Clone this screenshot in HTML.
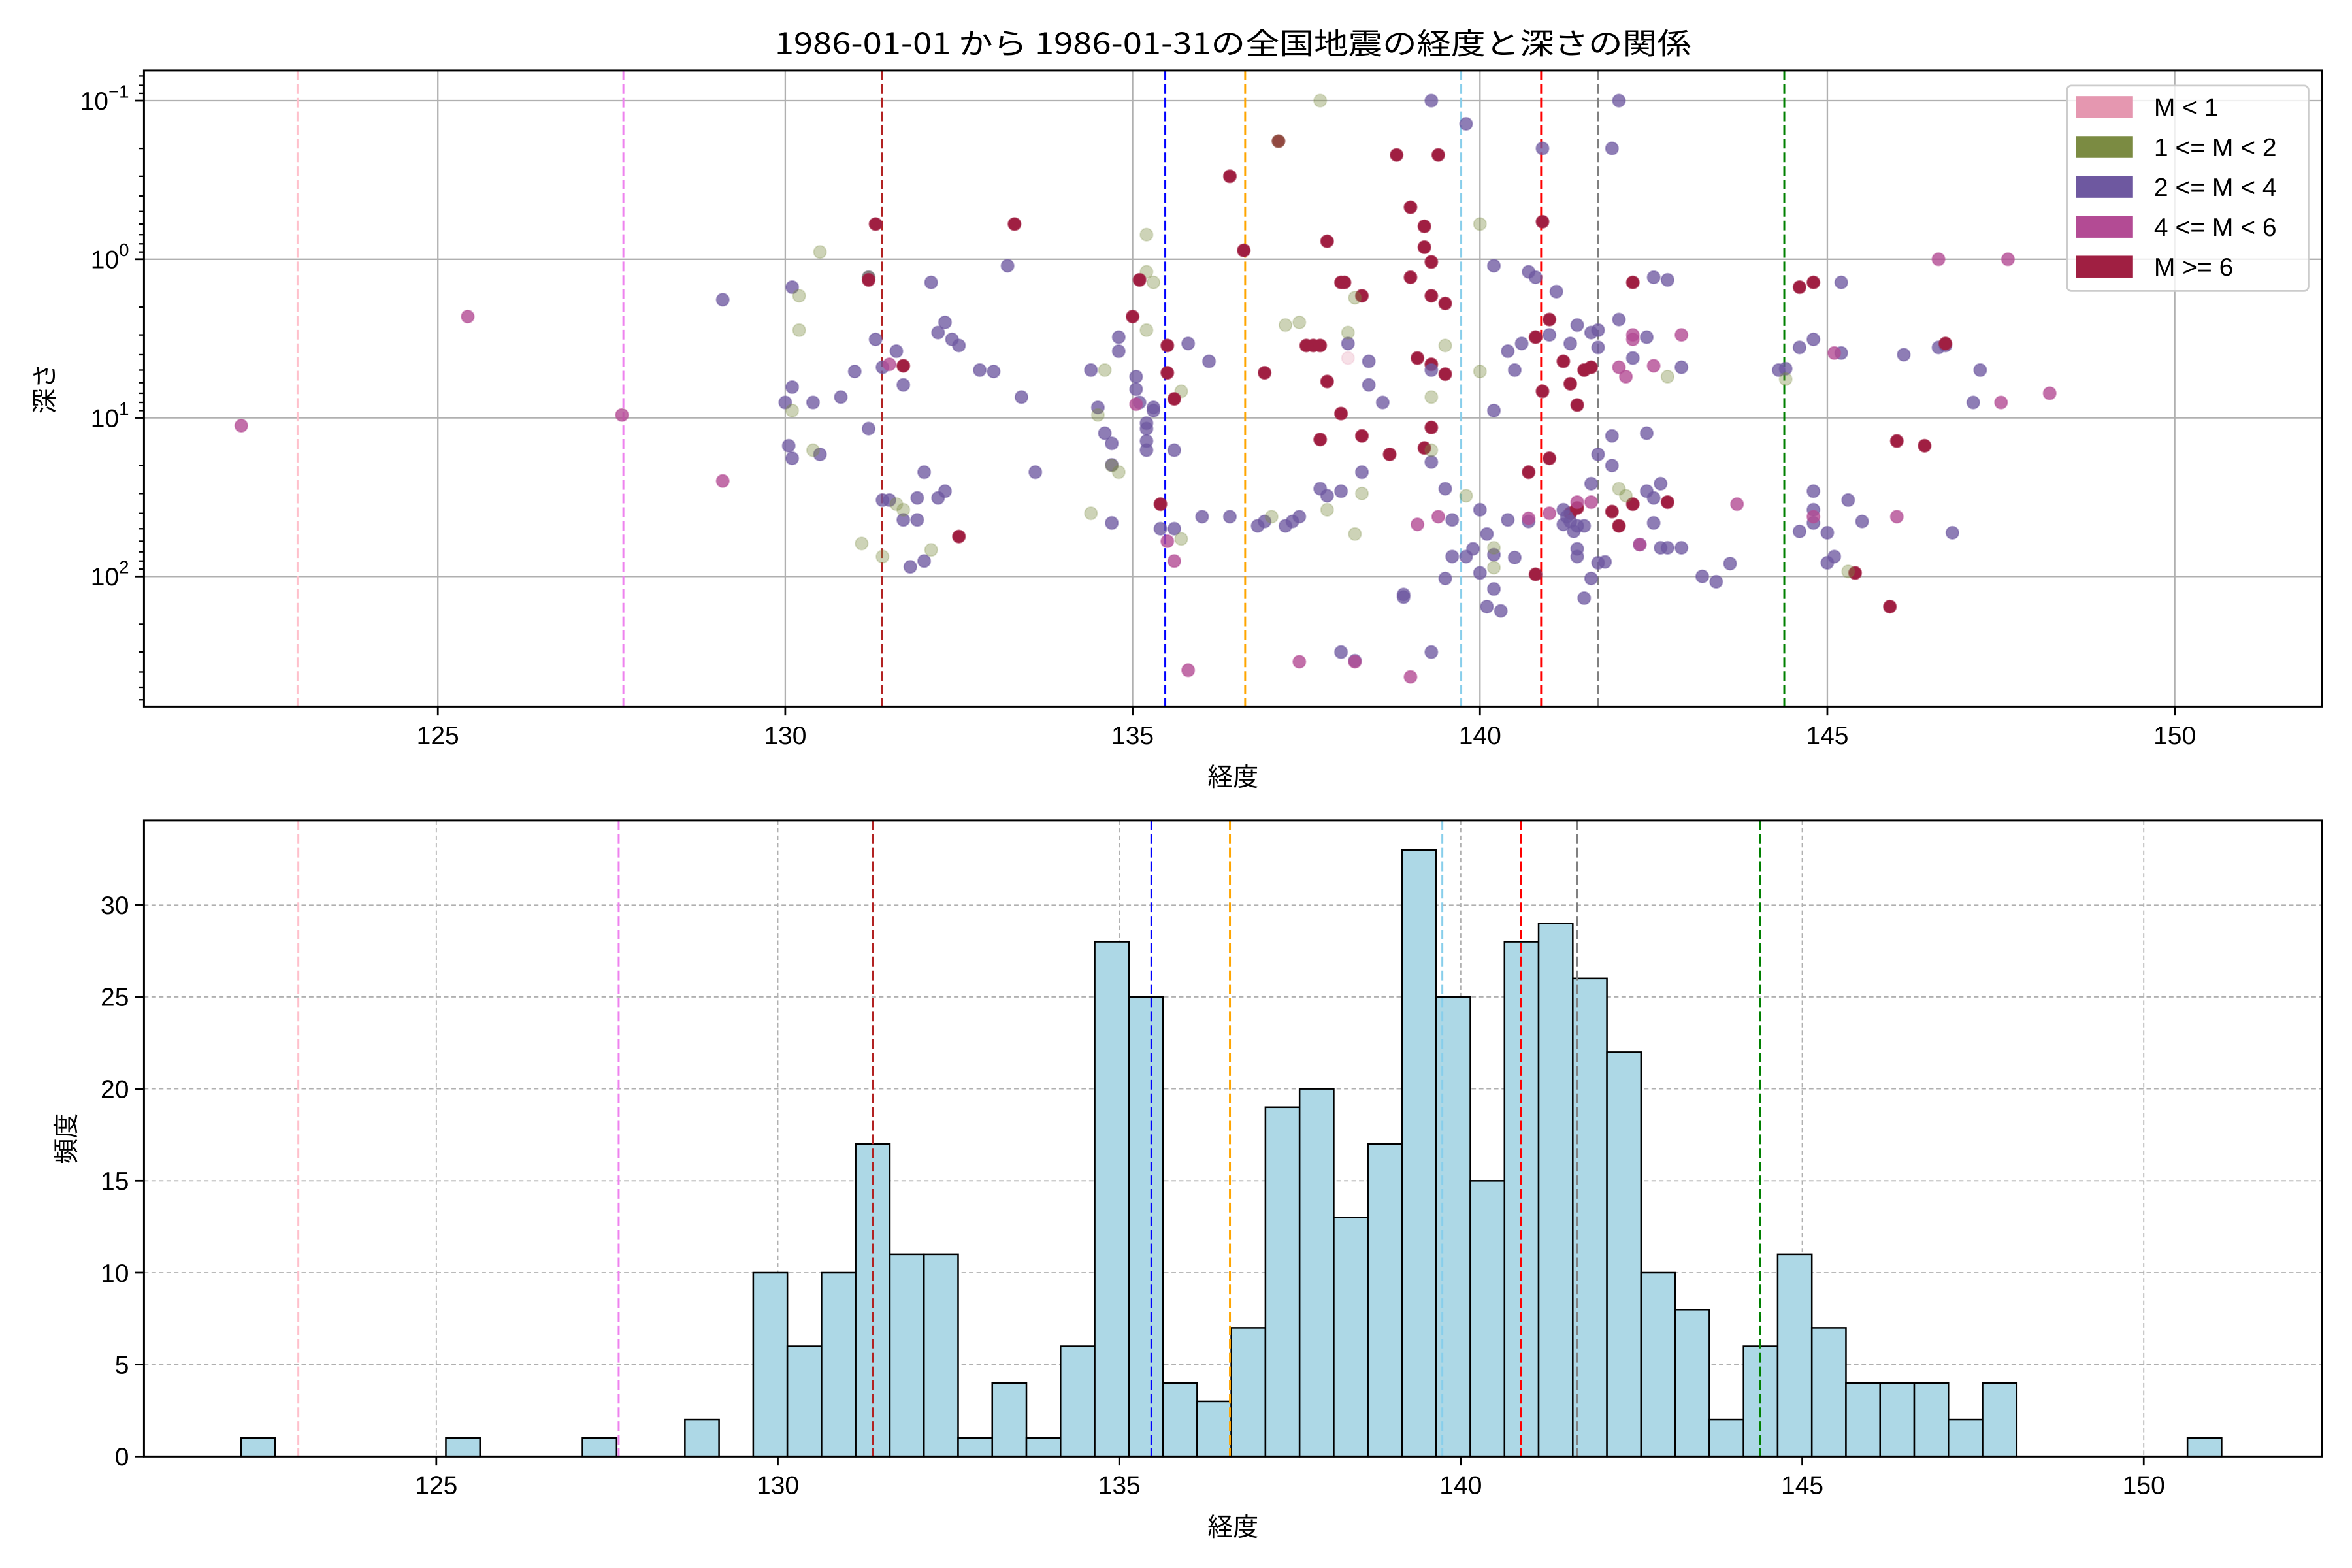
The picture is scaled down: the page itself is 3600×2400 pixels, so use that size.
<!DOCTYPE html>
<html><head><meta charset="utf-8"><style>
html,body{margin:0;padding:0;background:#fff;}
svg{display:block;}
text{font-family:"Liberation Sans","Noto Sans CJK JP",sans-serif;fill:#000;}
.jp{font-family:"Noto Sans CJK JP","Liberation Sans",sans-serif;}
</style></head>
<body>
<svg id="fig" xmlns="http://www.w3.org/2000/svg" width="3600" height="2400" viewBox="0 0 1568 1045.33" preserveAspectRatio="none">
<rect x="0" y="0" width="1568" height="1046" fill="#fff"/>
<text class="jp" x="822" y="36" font-size="19.5" text-anchor="middle" textLength="611" lengthAdjust="spacingAndGlyphs">1986-01-01 から 1986-01-31の全国地震の経度と深さの関係</text>
<g id="topPanel"></g>
<g id="botPanel"></g>
</svg>
<script>
// ---- data ----
const magLabels = ["M < 1","1 <= M < 2","2 <= M < 4","4 <= M < 6","M >= 6"];
const magColors = ["#e597b0","#7b8b42","#6e58a0","#b34b94","#a01f42"];
const magAlpha = [0.3,0.38,0.78,0.8,1.0];
const refLon = [122.98,127.67,131.39,135.47,136.62,139.73,140.88,141.7,144.38];
const refColors = ["pink","violet","#b22222","blue","orange","skyblue","red","gray","green"];
const topXTicks = [125,130,135,140,145,150];
const topYTickExp = [-1,0,1,2];
const histBinStart = 122.14;
const histBinWidth = 0.5;
const histCounts = [1,0,0,0,0,0,1,0,0,0,1,0,0,2,0,
 10,6,10,17,11,11,1,4,1,6,
 28,25,4,3,7,19,20,13,17,33,
 25,15,28,29,26,22,10,8,2,6,
 11,7,4,4,4,2,4,0,0,0,0,0,1];
const histYTicks = [0,5,10,15,20,25,30];
// [longitude, depth, magnitude class]
const quakes = [
[122.17,11.2,3],[125.43,2.3,3],[127.65,9.6,3],[129.1,25,3],
[129.1,1.8,2],[130,8,2],[130.1,1.5,2],[130.1,6.4,2],[130.05,15,2],[130.1,18,2],[130.4,8,2],[130.5,17,2],[130.8,7.4,2],[131,5.1,2],[131.2,11.7,2],[131.2,1.3,2],[131.3,3.2,2],[131.4,4.8,2],[131.6,3.8,2],[131.7,6.2,2],[132.1,1.4,2],[132.2,2.9,2],[132.3,2.5,2],[132.4,3.2,2],[132.5,3.5,2],[132.8,5,2],[132,22,2],[131.9,32,2],[132.2,32,2],[132.3,29,2],[131.9,44,2],[131.7,44,2],[132,80,2],[131.8,87,2],[131.5,33,2],[131.4,33,2],[133.2,1.1,2],[133.4,7.4,2],[133.6,22,2],[133,5.1,2],
[130.5,0.9,1],[130.2,1.7,1],[130.2,2.8,1],[130.4,16,1],[130.1,9,1],[131.2,1.3,1],[131.6,35,1],[131.7,38,1],[131.1,62,1],[131.4,75,1],[132.1,68,1],
[131.3,0.6,4],[131.2,1.35,4],[131.7,4.7,4],[132.5,56,4],[133.3,0.6,4],[131.5,4.6,3],
[134.8,3.1,2],[134.8,3.8,2],[134.4,5,2],[134.5,8.6,2],[134.7,14.5,2],[134.6,12.5,2],[134.7,19.8,2],[134.7,46,2],[135.05,5.5,2],[135.05,6.6,2],[135.1,8,2],[135.2,10.8,2],[135.2,11.7,2],[135.3,8.6,2],[135.3,9,2],[135.2,16,2],[135.2,14,2],[135.4,50,2],[135.6,50,2],[135.6,16,2],[135.8,3.4,2],[136.1,4.4,2],[136,42,2],[136.4,42,2],
[134.6,5,1],[134.5,9.6,1],[134.7,20,1],[134.8,22,1],[135.2,0.7,1],[135.2,1.2,1],[135.3,1.4,1],[135.2,2.8,1],[135.7,6.8,1],[134.4,40,1],[135.7,58,1],
[135,2.3,4],[135.1,1.35,4],[135.5,3.5,4],[135.5,5.2,4],[135.6,7.6,4],[135.4,35,4],[136.4,0.3,4],[136.6,0.88,4],[137.1,0.18,4],[137.1,0.18,1],
[135.05,8.2,3],[135.5,60,3],[135.6,80,3],[135.8,390,3],
[136.9,5.2,4],[137.5,3.5,4],[137.6,3.5,4],[137.7,3.5,4],[137.8,0.77,4],[138,1.4,4],[138.05,1.4,4],[138.3,1.7,4],[137.8,5.9,4],[138,9.4,4],[137.7,13.7,4],[138.3,13,4],[139,0.47,4],[139.2,0.62,4],[139,1.3,4],[139.2,0.84,4],[139.3,1.04,4],[139.3,1.7,4],[139.1,4.2,4],[139.5,1.9,4],[139.3,4.6,4],[139.5,5.3,4],[139.3,11.5,4],[139.2,15.5,4],[138.8,0.22,4],[139.4,0.22,4],[138.7,17,4],
[137.7,28,2],[137.8,31,2],[137.4,42,2],[137.3,45,2],[137.2,48,2],[136.9,45,2],[136.8,48,2],[138,29,2],[138.3,22,2],[138.1,3.4,2],[138.4,4.4,2],[138.4,6.2,2],[138.6,8,2],[138.9,130,2],[138.9,135,2],[138,300,2],[138.2,340,2],[139.3,300,2],[139.5,103,2],[139.3,5,2],[139.3,19,2],[139.5,28,2],[139.6,44,2],[139.6,75,2],[139.8,75,2],[139.3,0.1,2],[139.8,0.14,2],[139.9,67,2],[140,95,2],[140.1,155,2],[140.2,120,2],[140.3,165,2],[140,38,2],[140.1,54,2],[140.4,44,2],[140.5,76,2],[140.7,45,2],[140.2,73,2],[140.2,1.1,2],[140.4,3.8,2],[140.5,5,2],[140.2,9,2],[140.6,3.4,2],
[137,42,1],[137.2,2.6,1],[137.4,2.5,1],[137.8,38,1],[138.2,54,1],[138.3,30,1],[138.1,2.9,1],[138.2,1.75,1],[137.7,0.1,1],[139.3,7.4,1],[139.3,16,1],[139.5,3.5,1],[139.8,31,1],[140,5.1,1],[140.2,66,1],[140,0.6,1],
[137.4,345,3],[138.2,345,3],[139,430,3],[139.1,47,3],[139.4,42,3],[138.1,4.2,0],
[140.8,3.1,4],[140.7,22,4],[141,18,4],[141,2.4,4],[140.9,0.58,4],[140.9,6.8,4],[141.2,4.4,4],[141.3,6.1,4],[141.3,40,4],[141.4,37,4],[141.6,4.8,4],[141.9,39,4],[142,48,4],[142.2,1.4,4],[142.2,35,4],[142.7,34,4],[140.8,97,4],[141.4,8.3,4],[141.5,5,4],
[140.9,0.2,2],[141.9,0.2,2],[142,0.1,2],[140.7,1.2,2],[140.8,1.3,2],[141.1,1.6,2],[141.4,2.6,2],[141.6,2.9,2],[141,3,2],[141.3,3.4,2],[141.7,2.8,2],[142,2.4,2],[142.2,4.2,2],[142.4,3.1,2],[142.5,1.3,2],[142.7,1.35,2],[142.9,4.8,2],[141.7,3.6,2],[141.9,13,2],[141.9,20,2],[142.4,12.5,2],[142.4,29,2],[142.5,32,2],[142.5,46,2],[142.6,66,2],[142.7,66,2],[142.9,66,2],[143.2,100,2],[143.4,108,2],[143.6,83,2],[141.5,48,2],[141.4,48,2],[141.2,47,2],[141.4,67,2],[141.2,38,2],[141.6,103,2],[141.5,137,2],[141.4,75,2],[141.7,82,2],[142.3,63,2],[141.7,17,2],[141.6,26,2],[141.8,81,2],[142.6,26,2],[141.3,45,2],[141.35,52,2],[141.25,42,2],
[140.7,43,3],[141,40,3],[141.4,34,3],[141.6,34,3],[142,4.8,3],[142.1,5.5,3],[142.2,3.2,3],[142.3,63,3],[142.5,4.7,3],[142.9,3,3],[143.7,35,3],[142.2,3,3],
[142,28,1],[142.1,31,1],[142.7,5.5,1],[140.2,88,1],
[144.3,5,2],[144.4,4.9,2],[144.8,29,2],[144.8,38,2],[144.8,46,2],[144.6,52,2],[144.6,3.6,2],[145.2,1.4,2],[145.2,3.9,2],[144.8,3.2,2],[145.1,75,2],[145.3,33,2],[145,53,2],[145,82,2],[146.1,4,2],[146.6,3.6,2],[146.7,3.5,2],[147.2,5,2],[147.1,8,2],[146.8,53,2],[145.5,45,2],
[144.6,1.5,4],[144.8,1.4,4],[145.4,95,4],[145.9,155,4],[146,14,4],[146.4,15,4],[146.7,3.4,4],
[145.1,3.9,3],[146,42,3],[146.6,1,3],[147.6,1,3],[147.5,8,3],[148.2,7,3],[144.8,42,3],
[145.3,93,1],[144.4,5.7,1]
];

// ---- layout ----
const NS = "http://www.w3.org/2000/svg";
const L = 96, R = 1548;
const T1 = 47, B1 = 471, T2 = 547, B2 = 971;
const topXMin = 120.77, topXMax = 152.12;
const botXMin = 120.72, botXMax = 152.61;
const logMin = -1.19, logMax = 2.82;
const botYMax = 34.6;
function xTop(v){ return L + (v - topXMin) / (topXMax - topXMin) * (R - L); }
function xBot(v){ return L + (v - botXMin) / (botXMax - botXMin) * (R - L); }
function yTop(d){ return T1 + (Math.log10(d) - logMin) / (logMax - logMin) * (B1 - T1); }
function yBot(v){ return B2 - v / botYMax * (B2 - T2); }
function mk(tag, attrs, parent){
  const e = document.createElementNS(NS, tag);
  for (const k in attrs) e.setAttribute(k, attrs[k]);
  parent.appendChild(e);
  return e;
}
const topG = document.getElementById('topPanel');
const botG = document.getElementById('botPanel');

// ===== TOP PANEL =====
topXTicks.forEach(v => {
  const g = mk('line', {x1:xTop(v), x2:xTop(v), y1:T1, y2:B1, stroke:'#b0b0b0', 'stroke-width':1}, topG);
  
  
});
topYTickExp.forEach(e => {
  const y = yTop(Math.pow(10, e));
  const g = mk('line', {x1:L, x2:R, y1:y, y2:y, stroke:'#b0b0b0', 'stroke-width':1}, topG);
  
  
});
refLon.forEach((v, i) => {
  const l = mk('line', {x1:xTop(v), x2:xTop(v), y1:T1, y2:B1, stroke:refColors[i], 'stroke-width':1.3, 'stroke-dasharray':'6.5,2.6'}, topG);
  
  
});
quakes.forEach(q => {
  const c = mk('circle', {cx:xTop(q[0]), cy:yTop(q[1]), r:4.2, fill:magColors[q[2]], 'fill-opacity':magAlpha[q[2]], stroke:magColors[q[2]], 'stroke-opacity':magAlpha[q[2]]*0.6, 'stroke-width':0.9}, topG);
  
  
});
const sp1 = mk('rect', {x:L, y:T1, width:R-L, height:B1-T1, fill:'none', stroke:'#000', 'stroke-width':1.3}, topG);


topXTicks.forEach(v => {
  const x = xTop(v);
  mk('line', {x1:x, x2:x, y1:B1, y2:B1+6, stroke:'#000', 'stroke-width':1.2}, topG);
  const t = mk('text', {x:x, y:B1+25, 'font-size':17, 'text-anchor':'middle'}, topG);
  t.textContent = String(v);
  
  
});
topYTickExp.forEach(e => {
  const y = yTop(Math.pow(10, e));
  mk('line', {x1:L-6, x2:L, y1:y, y2:y, stroke:'#000', 'stroke-width':1.2}, topG);
  const t = mk('text', {x:L-10, y:y+6, 'font-size':17, 'text-anchor':'end'}, topG);
  
  
  const a = document.createElementNS(NS, 'tspan'); a.textContent = '10'; t.appendChild(a);
  const b = document.createElementNS(NS, 'tspan');
  b.setAttribute('font-size', '12'); b.setAttribute('dy', '-8');
  b.textContent = e < 0 ? '\u2212' + (-e) : String(e); t.appendChild(b);
});
for (let e = -2; e <= 2; e++) {
  for (let m = 2; m <= 9; m++) {
    const d = m * Math.pow(10, e);
    const lg = Math.log10(d);
    if (lg < logMin || lg > logMax) continue;
    const y = yTop(d);
    mk('line', {x1:L-3.5, x2:L, y1:y, y2:y, stroke:'#000', 'stroke-width':1}, topG);
  }
}
const xl1 = mk('text', {x:822, y:524, 'font-size':17, 'text-anchor':'middle', class:'jp'}, topG);
xl1.textContent = '経度';


const yl1 = mk('text', {x:0, y:0, 'font-size':17, 'text-anchor':'middle', class:'jp', transform:'translate(36,259) rotate(-90)'}, topG);
yl1.textContent = '深さ';


const lgBox = mk('rect', {x:1378, y:57, width:161, height:137, rx:3, fill:'#fff', 'fill-opacity':0.8, stroke:'#cccccc', 'stroke-width':1.2}, topG);


magLabels.forEach((s, i) => {
  const cy = 71.4 + i * 26.6;
  const p = mk('rect', {x:1384, y:cy-7.3, width:38, height:14.6, fill:magColors[i]}, topG);
  
  
  const t = mk('text', {x:1436, y:cy+6, 'font-size':17}, topG);
  t.textContent = s;
  
  
});

// ===== BOTTOM PANEL =====
topXTicks.forEach(v => {
  const g = mk('line', {x1:xBot(v), x2:xBot(v), y1:T2, y2:B2, stroke:'#b0b0b0', 'stroke-width':0.8, 'stroke-dasharray':'3,2'}, botG);
  
  
});
histYTicks.forEach(v => {
  const y = yBot(v);
  const g = mk('line', {x1:L, x2:R, y1:y, y2:y, stroke:'#b0b0b0', 'stroke-width':0.8, 'stroke-dasharray':'3,2'}, botG);
  
  
});
histCounts.forEach((c, k) => {
  if (c <= 0) return;
  const x0 = xBot(histBinStart + k * histBinWidth);
  const x1 = xBot(histBinStart + (k + 1) * histBinWidth);
  const b = mk('rect', {x:x0, y:yBot(c), width:x1-x0, height:yBot(0)-yBot(c), fill:'#add8e6', stroke:'#000', 'stroke-width':1.1}, botG);
  
  
});
refLon.forEach((v, i) => {
  const l = mk('line', {x1:xBot(v), x2:xBot(v), y1:T2, y2:B2, stroke:refColors[i], 'stroke-width':1.3, 'stroke-dasharray':'6.5,2.6'}, botG);
  
  
});
const sp2 = mk('rect', {x:L, y:T2, width:R-L, height:B2-T2, fill:'none', stroke:'#000', 'stroke-width':1.3}, botG);


topXTicks.forEach(v => {
  const x = xBot(v);
  mk('line', {x1:x, x2:x, y1:B2, y2:B2+6, stroke:'#000', 'stroke-width':1.2}, botG);
  const t = mk('text', {x:x, y:B2+25, 'font-size':17, 'text-anchor':'middle'}, botG);
  t.textContent = String(v);
  
  
});
histYTicks.forEach(v => {
  const y = yBot(v);
  mk('line', {x1:L-6, x2:L, y1:y, y2:y, stroke:'#000', 'stroke-width':1.2}, botG);
  const t = mk('text', {x:L-10, y:y+6, 'font-size':17, 'text-anchor':'end'}, botG);
  t.textContent = String(v);
  
  
});
const xl2 = mk('text', {x:822, y:1024, 'font-size':17, 'text-anchor':'middle', class:'jp'}, botG);
xl2.textContent = '経度';


const yl2 = mk('text', {x:0, y:0, 'font-size':17, 'text-anchor':'middle', class:'jp', transform:'translate(50,759) rotate(-90)'}, botG);
yl2.textContent = '頻度';


</script>
</body></html>
